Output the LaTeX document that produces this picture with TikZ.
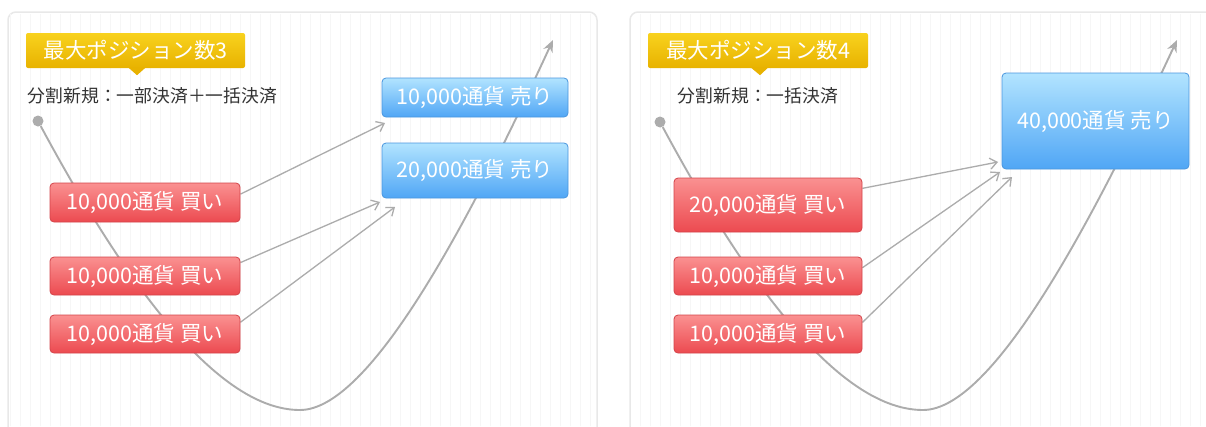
\documentclass[tikz,border=0pt]{standalone}
\usepackage{fontspec}
\setmainfont{Noto Sans CJK JP}
\usetikzlibrary{arrows.meta,calc}
\definecolor{redtop}{RGB}{250,145,145}
\definecolor{redbot}{RGB}{236,74,80}
\definecolor{redline}{RGB}{212,68,74}
\definecolor{bluetop}{RGB}{178,228,255}
\definecolor{bluebot}{RGB}{80,166,245}
\definecolor{blueline}{RGB}{74,150,222}
\definecolor{yeltop}{RGB}{248,210,30}
\definecolor{yelbot}{RGB}{232,178,0}
\definecolor{curvegray}{RGB}{172,172,172}
\definecolor{gridgray}{RGB}{246,246,246}
\definecolor{framegray}{RGB}{232,232,232}
\definecolor{subtext}{RGB}{51,51,51}
\pgfdeclarelayer{back}
\pgfdeclarelayer{mid}
\pgfsetlayers{back,mid,main}
\begin{document}
\begin{tikzpicture}[x=1pt,y=-1pt,
  buybox/.style={rounded corners=4pt, draw=redline, line width=0.8pt,
    top color=redtop, bottom color=redbot, text=white, inner sep=0pt,
    font=\fontsize{21.5}{21.5}\selectfont},
  sellbox/.style={rounded corners=4pt, draw=blueline, line width=0.8pt,
    top color=bluetop, bottom color=bluebot, text=white, inner sep=0pt,
    font=\fontsize{21.5}{21.5}\selectfont},
  tagbox/.style={rounded corners=2pt, top color=yeltop, bottom color=yelbot,
    text=white, inner sep=0pt, minimum width=219pt, minimum height=35pt,
    font=\fontsize{21.5}{21.5}\selectfont},
  subtitle/.style={text=subtext, inner sep=0pt, font=\fontsize{17.8}{17.8}\selectfont},
  startdot/.style={circle, fill=curvegray, minimum size=11pt, inner sep=0pt},
  pathcurve/.style={draw=curvegray, line width=1.9pt, -{Stealth[length=12pt,width=10pt]}},
  link/.style={draw=curvegray, line width=1.3pt, -{Straight Barb[length=7pt,width=11pt]}},
  panel/.style={draw=framegray, line width=1.5pt, fill=white, rounded corners=8pt}
]
\useasboundingbox (0,0) rectangle (1206,426);

% ---------- background, panels, grid ----------
\begin{pgfonlayer}{back}
  \fill[white] (0,0) rectangle (1206,426);
  \path[panel] (8,12) rectangle (597,450);
  \path[panel] (630,12) rectangle (1220,450);
  \begin{scope}
    \clip (10,14) rectangle (595,426);
    \draw[gridgray, line width=0.5pt, step=10] (10,14) grid (595,426);
  \end{scope}
  \begin{scope}
    \clip (632,14) rectangle (1206,426);
    \draw[gridgray, line width=0.5pt, step=10] (632,14) grid (1206,426);
  \end{scope}
\end{pgfonlayer}

% ---------- panel 1 ----------
\node[tagbox] (tag1) at (135.5,50.5) {最大ポジション数3};
\fill[yelbot] ($(tag1.south)+(-7,-0.5)$) -- ($(tag1.south)+(1.5,7)$) -- ($(tag1.south)+(10,-0.5)$) -- cycle;
\node[subtitle] (sub1) at (152.5,96) {分割新規：一部決済＋一括決済};
\node[startdot] (dot1) at (38,121) {};

\node[buybox, minimum width=190pt, minimum height=39pt] (a1) at (145,202.5) {10,000通貨 買い};
\node[buybox, minimum width=190pt, minimum height=38pt] (b1) at (145,276) {10,000通貨 買い};
\node[buybox, minimum width=190pt, minimum height=38pt] (c1) at (145,334) {10,000通貨 買い};
\node[sellbox, minimum width=186pt, minimum height=39pt] (s1) at (475,97.5) {10,000通貨 売り};
\node[sellbox, minimum width=186pt, minimum height=55pt] (s2) at (475,170.5) {20,000通貨 売り};

\coordinate (end1) at (553,40);
\coordinate (ta1) at (385,123);
\coordinate (tb1) at (380,202);
\coordinate (tc1) at (395,207);

% ---------- panel 2 ----------
\node[tagbox, minimum width=220pt] (tag2) at (758,50.5) {最大ポジション数4};
\fill[yelbot] ($(tag2.south)+(-7,-0.5)$) -- ($(tag2.south)+(2,7)$) -- ($(tag2.south)+(10,-0.5)$) -- cycle;
\node[subtitle] (sub2) at (758,96) {分割新規：一括決済};
\node[startdot] (dot2) at (660,122) {};

\node[buybox, minimum width=188pt, minimum height=54pt] (p1) at (768,205) {20,000通貨 買い};
\node[buybox, minimum width=188pt, minimum height=38pt] (p2) at (768,276) {10,000通貨 買い};
\node[buybox, minimum width=188pt, minimum height=38pt] (p3) at (768,334) {10,000通貨 買い};
\node[sellbox, minimum width=187pt, minimum height=96pt] (q1) at (1095.5,121) {40,000通貨 売り};

\coordinate (end2) at (1177,40);
\coordinate (tp1) at (998,162);
\coordinate (tp2) at (1000,172);
\coordinate (tp3) at (1012,177);

% ---------- curves and links ----------
\begin{pgfonlayer}{mid}
  \draw[pathcurve] (dot1) .. controls (145,320) and (230,410) .. (300,410)
        .. controls (370,410) and (469,222) .. (end1);
  \draw[link] (a1.5) -- (ta1);
  \draw[link] (b1.8) -- (tb1);
  \draw[link] (c1.7) -- (tc1);

  \draw[pathcurve] (dot2) .. controls (767,321) and (853,410) .. (923,410)
        .. controls (993,410) and (1092,222) .. (end2);
  \draw[link] (p1.10) -- (tp1);
  \draw[link] (p2.5) -- (tp2);
  \draw[link] (p3.7) -- (tp3);
\end{pgfonlayer}
\end{tikzpicture}
\end{document}
